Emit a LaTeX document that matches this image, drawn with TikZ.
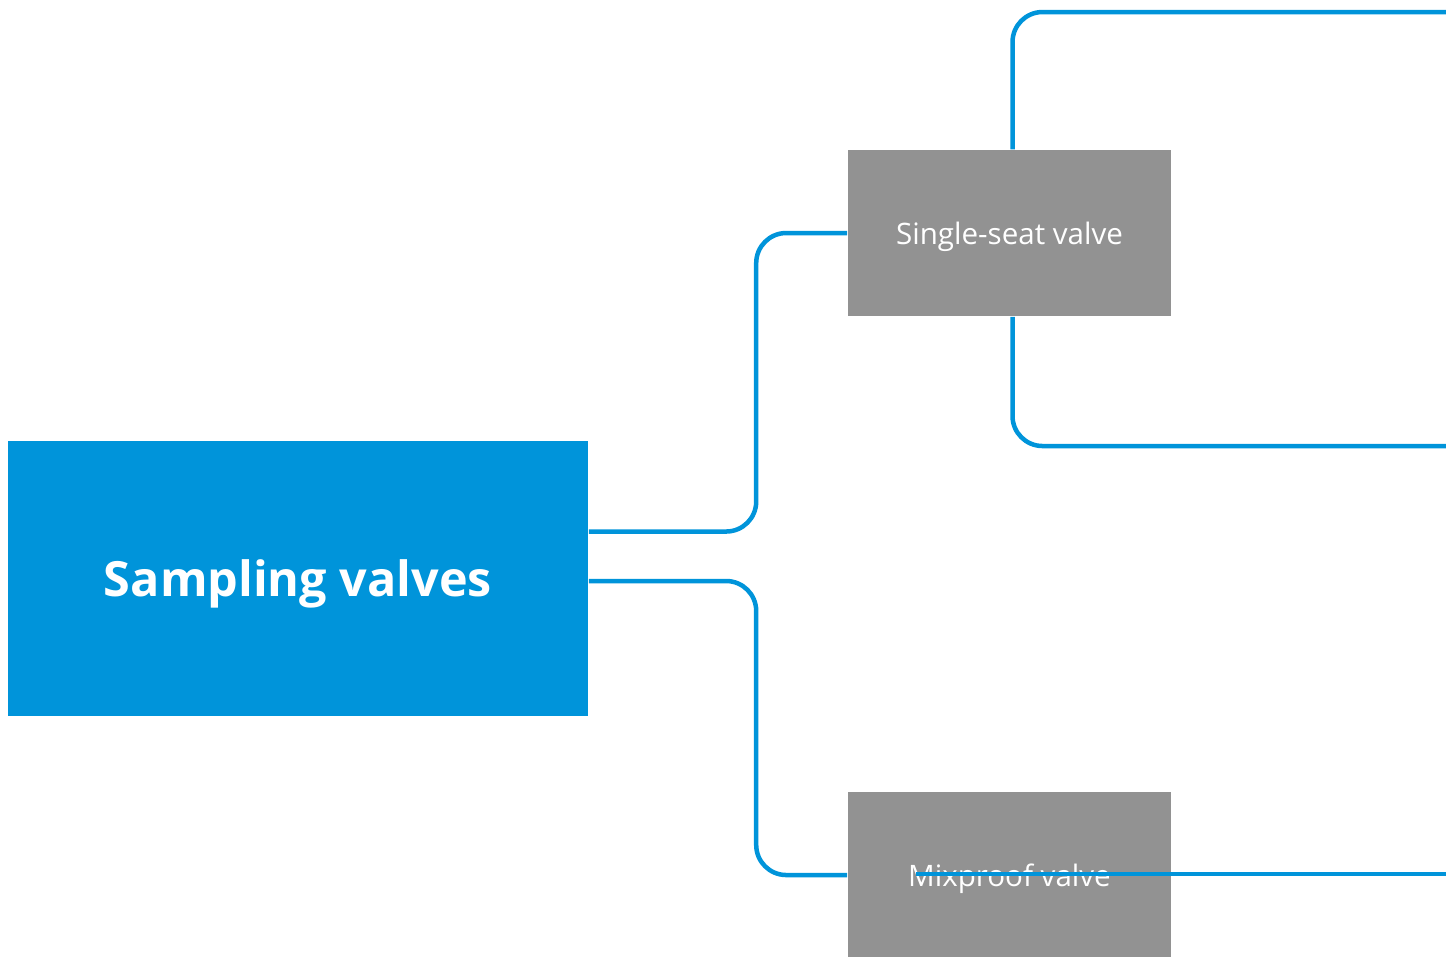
\documentclass[tikz,border=0pt]{standalone}
\usepackage{fontspec}
\setmainfont{Open Sans}
\definecolor{valveblue}{RGB}{0,148,218}
\definecolor{valvegray}{RGB}{146,146,146}
\usetikzlibrary{positioning,calc}

\begin{document}
\begin{tikzpicture}[x=0.01cm,y=-0.01cm,
  mainbox/.style={fill=valveblue, text=white, minimum width=5.8cm, minimum height=2.75cm, inner sep=0pt, text depth=0pt, font=\bfseries\fontsize{13.8}{16}\selectfont},
  subbox/.style={fill=valvegray, text=white, minimum width=3.23cm, minimum height=1.66cm, inner sep=0pt, text depth=0pt, font=\fontsize{8.4}{10}\selectfont},
  link/.style={valveblue, line width=0.045cm, rounded corners=0.3cm}]

\useasboundingbox (0,0) rectangle (1446,956);

% --- Boxes ---
\node[mainbox] (sampling) at (298,578.5) {Sampling valves};
\node[subbox] (single) at (1009.5,233) {Single-seat valve};
\node[subbox] (mixproof) at (1009.5,875) {Mixproof valve};

% --- Free ends at the right edge ---
\coordinate (topend) at (1446,12);
\coordinate (botend) at (1446,446);
\coordinate (mixstart) at (916,874);
\coordinate (mixend) at (1446,874);

% --- Connectors ---
\draw[link] ($(sampling.east)+(0,-47)$) -| ($(single.west)+(-91,0)$) -- (single.west);
\draw[link] ($(sampling.east)+(0,2.5)$) -| ($(mixproof.west)+(-91,0)$) -- (mixproof.west);
\draw[link] ($(single.north)+(3,0)$) |- (topend);
\draw[link] ($(single.south)+(3,0)$) |- (botend);
\draw[link] (mixstart) -- (mixend);

\end{tikzpicture}
\end{document}
